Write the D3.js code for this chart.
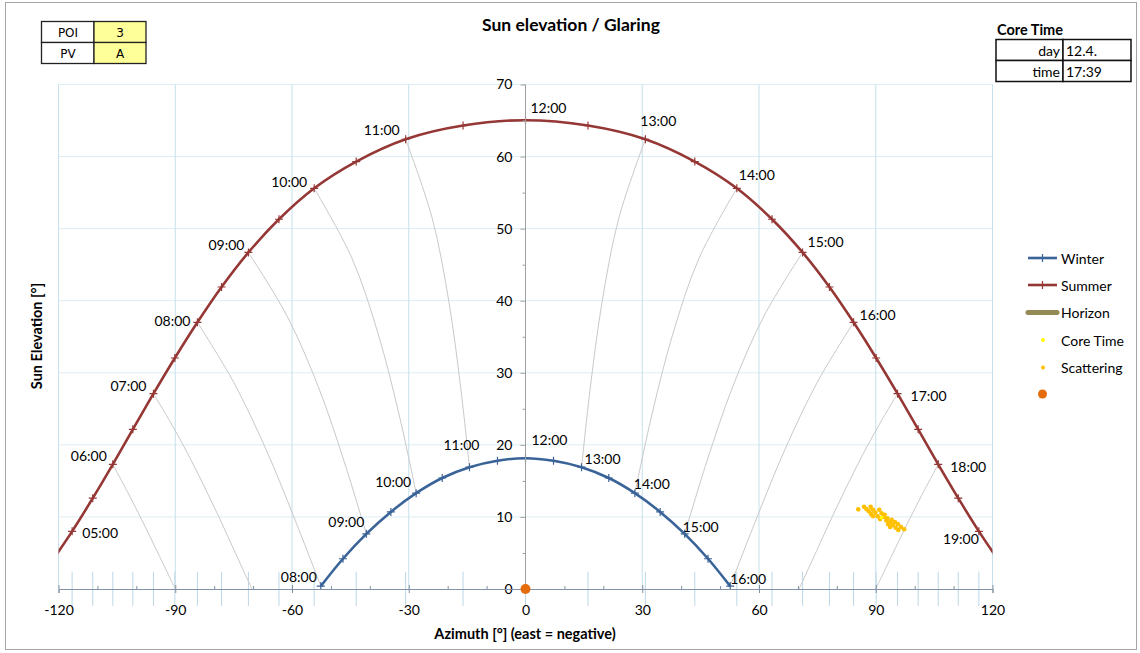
<!DOCTYPE html>
<html><head><meta charset="utf-8">
<script src="https://cdn.jsdelivr.net/npm/d3@7"></script>
<style>
body{margin:0;background:#fff}
svg{display:block}
text{font-family:Lato,"Open Sans",sans-serif;fill:#000}
</style>
</head><body>
<svg id="c" width="1140" height="653"></svg>
<script>
// ---------------- data ----------------
const xTicks = [-120, -90, -60, -30, 0, 30, 60, 90, 120];
const yTicks = [0, 10, 20, 30, 40, 50, 60, 70];

const summerTimes = ["04:30","05:00","05:30","06:00","06:30","07:00","07:30","08:00","08:30","09:00","09:30","10:00","10:30","11:00","11:30","12:00","12:30","13:00","13:30","14:00","14:30","15:00","15:30","16:00","16:30","17:00","17:30","18:00","18:30","19:00","19:30"];
const summerAz = [-121.9,-116.5,-111.2,-106.05,-100.9,-95.6,-90.1,-84.3,-78.1,-71.2,-63.35,-54.3,-43.5,-30.8,-16.05,0,16.05,30.8,43.5,54.3,63.35,71.2,78.1,84.3,90.1,95.6,100.9,106.05,111.2,116.5,121.9];
const summerEl = [3.7,8.0,12.6,17.3,22.15,27.1,32.05,37.0,41.9,46.7,51.3,55.6,59.3,62.4,64.3,65.05,64.3,62.4,59.3,55.6,51.3,46.7,41.9,37.0,32.05,27.1,22.15,17.3,12.6,8.0,3.7];

const winterTimes = ["08:00","08:30","09:00","09:30","10:00","10:30","11:00","11:30","12:00","12:30","13:00","13:30","14:00","14:30","15:00","15:30","16:00"];
const winterAz = [-52.6,-46.9,-40.9,-34.6,-28.1,-21.4,-14.4,-7.2,0,7.2,14.4,21.4,28.1,34.6,40.9,46.9,52.6];
const winterEl = [0.4,4.2,7.65,10.7,13.3,15.4,16.9,17.8,18.15,17.8,16.9,15.4,13.3,10.7,7.65,4.2,0.4];

const summerLabels = ["05:00","06:00","07:00","08:00","09:00","10:00","11:00","12:00","13:00","14:00","15:00","16:00","17:00","18:00","19:00"];
const winterLabels = ["08:00","09:00","10:00","11:00","12:00","13:00","14:00","15:00","16:00"];

const hourLineHours = ["06:00","07:00","08:00","09:00","10:00","11:00","12:00","13:00","14:00","15:00","16:00","17:00","18:00"];
const hourLineAz = [
  [-106.05,-102.2,-98.0,-94.0,-90.0],
  [-95.6,-91.3,-86.9,-82.7,-78.7,-74.8,-70.3],
  [-84.3,-75.0,-66.7,-59.3,-52.6],
  [-71.2,-61.3,-53.2,-46.6,-40.9],
  [-54.3,-44.6,-37.7,-32.4,-28.1],
  [-30.8,-24.0,-19.7,-16.7,-14.4],
  [0,0],
  [30.8,24.0,19.7,16.7,14.4],
  [54.3,44.6,37.7,32.4,28.1],
  [71.2,61.3,53.2,46.6,40.9],
  [84.3,75.0,66.7,59.3,52.6],
  [95.6,91.3,86.9,82.7,78.7,74.8,70.3],
  [106.05,102.2,98.0,94.0,90.0]
];
const hourLineEl = [
  [17.3,13.4,8.95,4.5,0],
  [27.1,23.2,18.9,14.4,9.9,5.3,0],
  [37.0,28.7,19.4,9.7,0.4],
  [46.7,37.9,28.0,17.7,7.65],
  [55.6,45.9,35.1,24.0,13.3],
  [62.4,51.5,39.9,28.15,16.9],
  [65.05,18.15],
  [62.4,51.5,39.9,28.15,16.9],
  [55.6,45.9,35.1,24.0,13.3],
  [46.7,37.9,28.0,17.7,7.65],
  [37.0,28.7,19.4,9.7,0.4],
  [27.1,23.2,18.9,14.4,9.9,5.3,0],
  [17.3,13.4,8.95,4.5,0]
];

const scatterAz = [85.5, 87.0,87.6,88.2,88.8,89.3, 88.7,89.3,89.9,90.5,91.1, 90.9,91.5,92.1,92.7,93.2,93.7, 92.3,93.0,93.7,94.4,95.1,95.8, 94.1,94.9,95.7,96.5,97.3];
const scatterEl = [11.05, 11.4,11.1,10.8,10.4,10.1, 11.4,11.0,10.6,10.1,9.7, 11.0,10.5,10.0,9.5,9.0,8.6, 10.3,9.8,9.3,8.9,8.5,8.2, 9.6,9.3,9.0,8.6,8.3];
const coreAz = [91.5];
const coreEl = [9.9];
const pointAz = [0];
const pointEl = [0];

const legendNames = ["Winter","Summer","Horizon","Core Time","Scattering",""];
const infoRows = [["POI","3"],["PV","A"]];
const coreRows = [["day","12.4."],["time","17:39"]];

// ---------------- style ----------------
const C = {
  summer:"#953735", winter:"#3a6398", hour:"#c9c9c9", gridV:"#c6e1ec", gridH:"#dcedf3",
  drop:"#bcd7e6", axisX:"#8391a5", axisY:"#a0a0a0", horizon:"#948a54",
  core:"#ffff00", scatter:"#ffc000", point:"#e46c0a", yellowCell:"#ffff99"
};
const FS = "14px";       // regular text size
const FSB = "14.5px";    // bold axis titles
// label offsets (text centre relative to marker)
const summerLabelOff = [[28,1],[-24,-9],[-25,-8],[-25,-2],[-22,-8],[-25,-7],[-24,-10],[23,-13],[13,-19],[20,-14],[23,-11],[24,-8],[31,2],[30,2],[-18,7]];
const winterLabelOff = [[-22,-10],[-20,-12],[-23,-12],[-8,-23],[24,-19],[21,-9],[17,-10],[16,-7],[18,-8]];

const svg = d3.select("#c");
const x = d3.scaleLinear().domain([-120,120]).range([58.5,992.5]);
const y = d3.scaleLinear().domain([0,70]).range([589,84.5]);

// outer frame
svg.append("rect").attr("x",5.5).attr("y",2.5).attr("width",1131).attr("height",647)
  .attr("fill","#fff").attr("stroke","#a6a6a6").attr("stroke-width",1);

// clip
svg.append("clipPath").attr("id","plotclip").append("rect")
  .attr("x",x(-120)).attr("y",y(70)-2).attr("width",x(120)-x(-120)).attr("height",y(0)-y(70)+4);

const g = svg.append("g");

// gridlines
g.selectAll(".gh").data(d3.range(10,71,10)).join("line")
  .attr("x1",x(-120)).attr("x2",x(120)).attr("y1",d=>y(d)).attr("y2",d=>y(d))
  .attr("stroke",C.gridH).attr("stroke-width",1);
g.selectAll(".gv").data(xTicks).join("line")
  .attr("x1",d=>x(d)).attr("x2",d=>x(d)).attr("y1",y(0)).attr("y2",y(70))
  .attr("stroke",C.gridV).attr("stroke-width",1);

// drop lines at summer positions
g.selectAll(".drop").data(summerAz.filter(a=>a>=-120&&a<=120)).join("line")
  .attr("x1",d=>x(d)).attr("x2",d=>x(d)).attr("y1",y(2.4)).attr("y2",y(-2.35))
  .attr("stroke",C.drop).attr("stroke-width",1);

const plot = svg.append("g").attr("clip-path","url(#plotclip)");

// hour lines
const lineGen = d3.line().x(d=>x(d[0])).y(d=>y(d[1])).curve(d3.curveCatmullRom);
hourLineHours.forEach((h,i)=>{
  const pts = hourLineAz[i].map((a,j)=>[a,hourLineEl[i][j]]);
  plot.append("path").attr("d",lineGen(pts)).attr("fill","none")
    .attr("stroke",C.hour).attr("stroke-width",1);
});

// axes
const xAxis = d3.axisBottom(x).tickValues(xTicks).tickSize(4).tickPadding(12).tickFormat(d=>String(d));
const xg = svg.append("g").attr("transform",`translate(0,${y(0)})`).call(xAxis);
xg.select(".domain").attr("stroke",C.axisX);
xg.selectAll(".tick line").attr("y1",-4).attr("y2",4).attr("stroke",C.axisX);
xg.selectAll(".tick text").style("font-family","Lato").style("font-size",FS).attr("fill","#000");
const xMinor = d3.axisBottom(x).tickValues(d3.range(-110,120,10).filter(v=>v%30!==0)).tickSize(-3).tickFormat("");
const xmg = svg.append("g").attr("transform",`translate(0,${y(0)})`).call(xMinor);
xmg.select(".domain").remove();
xmg.selectAll(".tick line").attr("stroke",C.axisX);

const yAxis = d3.axisLeft(y).tickValues(yTicks).tickSize(5).tickPadding(8).tickFormat(d=>String(d));
const yg = svg.append("g").attr("transform",`translate(${x(0)},0)`).call(yAxis);
yg.select(".domain").attr("stroke",C.axisY).attr("d",`M0,${y(0)}V${y(70)}`);
yg.selectAll(".tick line").attr("stroke",C.axisY);
yg.selectAll(".tick text").style("font-family","Lato").style("font-size",FS).attr("fill","#000");
const yMinor = d3.axisLeft(y).tickValues(d3.range(5,70,10)).tickSize(3).tickFormat("");
const ymg = svg.append("g").attr("transform",`translate(${x(0)},0)`).call(yMinor);
ymg.select(".domain").remove();
ymg.selectAll(".tick line").attr("stroke",C.axisY);
xg.raise();

// series curves
const summerPts = summerAz.map((a,i)=>[a,summerEl[i]]);
const winterPts = winterAz.map((a,i)=>[a,winterEl[i]]);
plot.append("path").attr("d",lineGen(summerPts)).attr("fill","none").attr("stroke",C.summer).attr("stroke-width",2.6);
plot.append("path").attr("d",lineGen(winterPts)).attr("fill","none").attr("stroke",C.winter).attr("stroke-width",2.6);

const plus = "M-4,0H4M0,-4V4";
plot.selectAll(".sm").data(summerPts).join("path").attr("d",plus)
  .attr("transform",d=>`translate(${x(d[0])},${y(d[1])})`).attr("stroke",C.summer).attr("stroke-width",1.2).attr("fill","none");
plot.selectAll(".wm").data(winterPts).join("path").attr("d",plus)
  .attr("transform",d=>`translate(${x(d[0])},${y(d[1])})`).attr("stroke",C.winter).attr("stroke-width",1.2).attr("fill","none");

// scattering & core time
svg.selectAll(".sc").data(scatterAz.map((a,i)=>[a,scatterEl[i]])).join("circle")
  .attr("cx",d=>x(d[0])).attr("cy",d=>y(d[1])).attr("r",2.3).attr("fill",C.scatter);
svg.selectAll(".ct").data(coreAz.map((a,i)=>[a,coreEl[i]])).join("circle")
  .attr("cx",d=>x(d[0])).attr("cy",d=>y(d[1])).attr("r",1.8).attr("fill",C.core);
svg.selectAll(".pt").data(pointAz.map((a,i)=>[a,pointEl[i]])).join("circle")
  .attr("cx",d=>x(d[0])).attr("cy",d=>y(d[1])).attr("r",5).attr("fill",C.point);

// hour labels
const lblStyle = s=>s.attr("text-anchor","middle").attr("dominant-baseline","central").style("font-size",FS);
summerLabels.forEach((t,i)=>{
  const k = summerTimes.indexOf(t);
  svg.append("text").attr("x",x(summerAz[k])+summerLabelOff[i][0]).attr("y",y(summerEl[k])+summerLabelOff[i][1]).text(t).call(lblStyle);
});
winterLabels.forEach((t,i)=>{
  const k = winterTimes.indexOf(t);
  svg.append("text").attr("x",x(winterAz[k])+winterLabelOff[i][0]).attr("y",y(winterEl[k])+winterLabelOff[i][1]).text(t).call(lblStyle);
});

// titles
svg.append("text").attr("x",571).attr("y",31).attr("text-anchor","middle").style("font-size","17.5px").style("font-weight","bold").text("Sun elevation / Glaring");
svg.append("text").attr("x",525).attr("y",639).attr("text-anchor","middle").style("font-size",FSB).style("font-weight","bold").text("Azimuth [°] (east = negative)");
svg.append("text").attr("transform","translate(42,336) rotate(-90)").attr("text-anchor","middle").style("font-size",FSB).style("font-weight","bold").text("Sun Elevation [°]");

// legend
const lg = svg.append("g");
const ly = [258,285,312.5,340,367.5,394];
[0,1].forEach(i=>{
  const col = i===0?C.winter:C.summer;
  lg.append("line").attr("x1",1028).attr("x2",1057).attr("y1",ly[i]).attr("y2",ly[i]).attr("stroke",col).attr("stroke-width",2.6);
  lg.append("path").attr("d",plus).attr("transform",`translate(1042.5,${ly[i]})`).attr("stroke",col).attr("stroke-width",1.2);
});
lg.append("line").attr("x1",1028).attr("x2",1057).attr("y1",ly[2]).attr("y2",ly[2]).attr("stroke",C.horizon).attr("stroke-width",5).attr("stroke-linecap","round");
lg.append("circle").attr("cx",1043).attr("cy",ly[3]).attr("r",2).attr("fill",C.core);
lg.append("circle").attr("cx",1043).attr("cy",ly[4]).attr("r",2).attr("fill",C.scatter);
lg.append("circle").attr("cx",1042.5).attr("cy",ly[5]).attr("r",4.5).attr("fill",C.point);
legendNames.forEach((n,i)=>{
  lg.append("text").attr("x",1061).attr("y",ly[i]).attr("dominant-baseline","central").style("font-size",FS).text(n);
});

// info table top-left
const it = svg.append("g");
infoRows.forEach((r,i)=>{
  const yy = 21.5 + i*21;
  it.append("rect").attr("x",41.5).attr("y",yy).attr("width",52.5).attr("height",21).attr("fill","#fff").attr("stroke","#222").attr("stroke-width",1.3);
  it.append("rect").attr("x",94).attr("y",yy).attr("width",52).attr("height",21).attr("fill",C.yellowCell).attr("stroke","#222").attr("stroke-width",1.3);
  it.append("text").attr("x",68).attr("y",yy+11).attr("text-anchor","middle").attr("dominant-baseline","central").style("font-family","DejaVu Sans").style("font-size","12px").text(r[0]);
  it.append("text").attr("x",120).attr("y",yy+11).attr("text-anchor","middle").attr("dominant-baseline","central").style("font-family","DejaVu Sans").style("font-size","12px").text(r[1]);
});

// core time table
const ct = svg.append("g");
ct.append("text").attr("x",997).attr("y",35).style("font-size",FSB).style("font-weight","bold").text("Core Time");
coreRows.forEach((r,i)=>{
  const yy = 39.5 + i*21;
  ct.append("rect").attr("x",996).attr("y",yy).attr("width",67).attr("height",21).attr("fill","#fff").attr("stroke","#111").attr("stroke-width",1.5);
  ct.append("rect").attr("x",1063).attr("y",yy).attr("width",68).attr("height",21).attr("fill","#fff").attr("stroke","#111").attr("stroke-width",1.5);
  ct.append("text").attr("x",1060).attr("y",yy+11).attr("text-anchor","end").attr("dominant-baseline","central").style("font-size",FS).text(r[0]);
  ct.append("text").attr("x",1066).attr("y",yy+11).attr("dominant-baseline","central").style("font-size",FS).text(r[1]);
});
</script>
</body></html>
